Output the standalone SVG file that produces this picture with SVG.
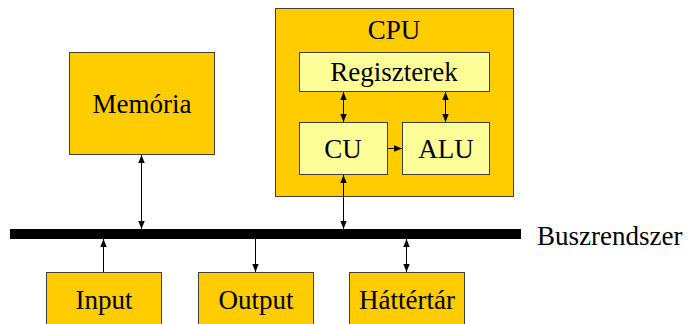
<svg xmlns="http://www.w3.org/2000/svg" width="688" height="324" viewBox="0 0 688 324">
  <defs>
    <marker id="head" viewBox="0 0 8 8" refX="8" refY="4" markerWidth="8" markerHeight="8" markerUnits="userSpaceOnUse" orient="auto-start-reverse">
      <path d="M0,0.8 L8,4 L0,7.2 Z" fill="#000"/>
    </marker>
  </defs>

  <rect width="688" height="324" fill="#fff"/>

  <!-- all boxes share one outline; all labels share one typeface -->
  <g stroke-width="1" font-family="Liberation Serif, Times New Roman, serif" font-size="27">
    <!-- processor enclosure and its parts -->
    <g id="cpu">
      <rect x="275.5" y="8.5" width="238" height="188" fill="#FFCC00" stroke="#404040"/>
      <text x="394" y="39" text-anchor="middle">CPU</text>
    </g>
    <g id="regiszterek">
      <rect x="299.5" y="52.5" width="190" height="39" fill="#FFFF99" stroke="#404040"/>
      <text x="394" y="81" text-anchor="middle">Regiszterek</text>
    </g>
    <g id="cu">
      <rect x="299.5" y="122.5" width="88" height="52" fill="#FFFF99" stroke="#404040"/>
      <text x="343" y="158" text-anchor="middle">CU</text>
    </g>
    <g id="alu">
      <rect x="402.5" y="122.5" width="87" height="52" fill="#FFFF99" stroke="#404040"/>
      <text x="446" y="158" text-anchor="middle">ALU</text>
    </g>

    <g id="memoria">
      <rect x="69.5" y="52.5" width="145" height="102" fill="#FFCC00" stroke="#404040"/>
      <text x="142" y="113" text-anchor="middle">Memória</text>
    </g>

    <!-- system bus -->
    <g id="busz">
      <rect x="10" y="229" width="511" height="10" fill="#000"/>
      <text x="537" y="245">Buszrendszer</text>
    </g>

    <g id="input">
      <rect x="46.5" y="272.5" width="115" height="60" fill="#FFCC00" stroke="#404040"/>
      <text x="104" y="309" text-anchor="middle">Input</text>
    </g>
    <g id="output">
      <rect x="198.5" y="272.5" width="115" height="60" fill="#FFCC00" stroke="#404040"/>
      <text x="256" y="309" text-anchor="middle">Output</text>
    </g>
    <g id="hattertar">
      <rect x="349.5" y="272.5" width="115" height="60" fill="#FFCC00" stroke="#404040"/>
      <text x="407" y="309" text-anchor="middle">Háttértár</text>
    </g>
  </g>

  <!-- connectors -->
  <g id="connectors" stroke="#000" stroke-width="1" fill="none">
    <line x1="343.5" y1="92" x2="343.5" y2="122" marker-start="url(#head)" marker-end="url(#head)"/>
    <line x1="445.5" y1="92" x2="445.5" y2="122" marker-start="url(#head)" marker-end="url(#head)"/>
    <line x1="388" y1="148.5" x2="402" y2="148.5" marker-end="url(#head)"/>
    <line x1="343.5" y1="175" x2="343.5" y2="229" marker-start="url(#head)" marker-end="url(#head)"/>
    <line x1="141.5" y1="155" x2="141.5" y2="229" marker-start="url(#head)" marker-end="url(#head)"/>
    <line x1="103.5" y1="272" x2="103.5" y2="239" marker-end="url(#head)"/>
    <line x1="255.5" y1="239" x2="255.5" y2="272" marker-end="url(#head)"/>
    <line x1="406.5" y1="239" x2="406.5" y2="272" marker-start="url(#head)" marker-end="url(#head)"/>
  </g>
</svg>
